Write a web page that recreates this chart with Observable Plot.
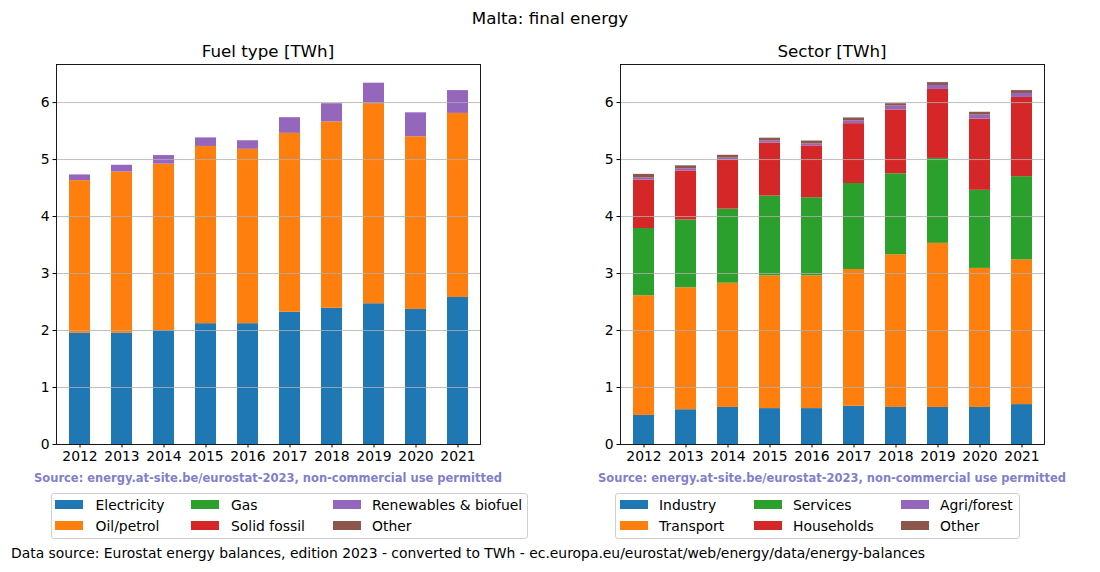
<!DOCTYPE html>
<html>
<head>
<meta charset="utf-8">
<script src="https://cdn.jsdelivr.net/npm/d3@7"></script>
<script src="https://cdn.jsdelivr.net/npm/@observablehq/plot@0.6"></script>
<style>
  html, body { margin: 0; padding: 0; background: white; }
  #root { position: relative; width: 1100px; height: 572px; font-family: "DejaVu Sans", sans-serif; color: black; overflow: hidden; background: white; }
  .abs { position: absolute; white-space: nowrap; }
  .title { font-size: 16.7px; line-height: 20px; text-align: center; }
  .src { font-size: 11.5px; font-weight: bold; color: #7f7fcc; line-height: 14px; text-align: center; }
  .legbox { border: 1px solid #d0d0d0; border-radius: 3px; box-sizing: border-box; background: white; }
  .patch { height: 9.7px; width: 28px; }
  .ltext { font-size: 13.9px; line-height: 16px; }
  .foot { font-size: 13.9px; line-height: 16px; }
</style>
</head>
<body>
<div id="root"></div>
<script>
// ---------------- data ----------------
const years = ["2012","2013","2014","2015","2016","2017","2018","2019","2020","2021"];

const fuelCategories = ["Electricity","Oil/petrol","Gas","Solid fossil","Renewables & biofuel","Other"];
const electricity = [1.95, 1.95, 2.00, 2.12, 2.12, 2.32, 2.39, 2.47, 2.37, 2.58];
const oilPetrol   = [2.68, 2.83, 2.92, 3.11, 3.06, 3.14, 3.27, 3.51, 3.03, 3.23];
const gasFuel     = [0, 0, 0, 0, 0, 0, 0, 0, 0, 0];
const solidFossil = [0, 0, 0, 0, 0, 0, 0, 0, 0, 0];
const renewables  = [0.10, 0.12, 0.15, 0.15, 0.15, 0.275, 0.32, 0.36, 0.42, 0.40];
const otherFuel   = [0, 0, 0, 0, 0, 0, 0, 0, 0, 0];

const sectorCategories = ["Industry","Transport","Services","Households","Agri/forest","Other"];
const industry    = [0.51, 0.61, 0.65, 0.63, 0.63, 0.67, 0.65, 0.65, 0.65, 0.70];
const transport   = [2.10, 2.14, 2.18, 2.33, 2.33, 2.40, 2.68, 2.88, 2.44, 2.54];
const services    = [1.18, 1.19, 1.30, 1.40, 1.37, 1.51, 1.42, 1.49, 1.37, 1.46];
const households  = [0.85, 0.86, 0.865, 0.93, 0.91, 1.05, 1.12, 1.21, 1.25, 1.39];
const agriForest  = [0.035, 0.04, 0.03, 0.035, 0.035, 0.05, 0.07, 0.07, 0.07, 0.07];
const otherSector = [0.065, 0.05, 0.05, 0.05, 0.05, 0.05, 0.04, 0.05, 0.05, 0.05];

const yTicks = [0, 1, 2, 3, 4, 5, 6];
const colors = ["#1f77b4","#ff7f0e","#2ca02c","#d62728","#9467bd","#8c564b"];

const fuelSeries = [electricity, oilPetrol, gasFuel, solidFossil, renewables, otherFuel];
const sectorSeries = [industry, transport, services, households, agriForest, otherSector];

function toLong(cats, series) {
  const out = [];
  years.forEach((y, i) => cats.forEach((c, j) => out.push({year: y, cat: c, value: series[j][i]})));
  return out;
}
const fuelData = toLong(fuelCategories, fuelSeries);
const sectorData = toLong(sectorCategories, sectorSeries);

// ---------------- layout ----------------
const root = document.getElementById("root");
function addDiv(cls, left, top, text, extra) {
  const d = document.createElement("div");
  d.className = "abs " + cls;
  d.style.left = left + "px";
  d.style.top = top + "px";
  if (text !== undefined) d.textContent = text;
  if (extra) Object.assign(d.style, extra);
  root.appendChild(d);
  return d;
}

function makeChart(data, cats, ymax) {
  return Plot.plot({
    width: 500,
    height: 420,
    marginLeft: 56,
    marginRight: 20,
    marginTop: 8,
    marginBottom: 32,
    style: {fontFamily: "DejaVu Sans, sans-serif", fontSize: "13.9px", color: "black", background: "transparent", overflow: "visible"},
    x: {type: "band", domain: years, paddingInner: 0.5, paddingOuter: 0.25, label: null},
    y: {domain: [0, ymax], label: null},
    color: {domain: cats, range: colors},
    marks: [
      Plot.barY(data, {x: "year", y: "value", fill: "cat", order: cats, inset: 0}),
      Plot.gridY(yTicks.slice(1), {stroke: "#b0b0b0", strokeOpacity: 1, strokeWidth: 0.8}),
      Plot.axisX({tickSize: 3.5, tickPadding: 3.5, fontSize: "13.9px", stroke: "black"}),
      Plot.axisY(yTicks, {tickSize: 3.5, tickPadding: 3.5, fontSize: "13.9px", stroke: "black", label: null, tickFormat: d => String(d)}),
      Plot.frame({stroke: "black", strokeWidth: 0.9})
    ]
  });
}

const ymax = 6.668;

// suptitle
addDiv("title", 0, 8, "Malta: final energy", {width: "1100px"});

// panels
const panels = [
  {left: 0, title: "Fuel type [TWh]", data: fuelData, cats: fuelCategories,
   leg: {left: 51, width: 477, cols: [55, 191, 333], texts: [95.5, 231, 372]}},
  {left: 564, title: "Sector [TWh]", data: sectorData, cats: sectorCategories,
   leg: {left: 615, width: 405, cols: [620, 754, 901], texts: [659, 793, 940]}}
];

panels.forEach(p => {
  const frameLeft = p.left + 56, frameRight = p.left + 480;
  const cx = (frameLeft + frameRight) / 2;
  const chart = makeChart(p.data, p.cats, ymax);
  const holder = addDiv("", p.left, 56);
  holder.appendChild(chart);
  addDiv("title", cx - 150, 41, p.title, {width: "300px"});
  addDiv("src", cx - 300, 471, "Source: energy.at-site.be/eurostat-2023, non-commercial use permitted", {width: "600px"});
  addDiv("legbox", p.leg.left, 493, undefined, {width: p.leg.width + "px", height: "46px"});
  const rows = [504.5, 525.5];
  p.cats.forEach((c, k) => {
    const col = Math.floor(k / 2), row = k % 2;
    addDiv("patch", p.leg.cols[col], rows[row] - 4.85, undefined, {background: colors[k]});
    addDiv("ltext", p.leg.texts[col], rows[row] - 8, c);
  });
});

addDiv("foot", 11, 545, "Data source: Eurostat energy balances, edition 2023 - converted to TWh - ec.europa.eu/eurostat/web/energy/data/energy-balances");
</script>
</body>
</html>
